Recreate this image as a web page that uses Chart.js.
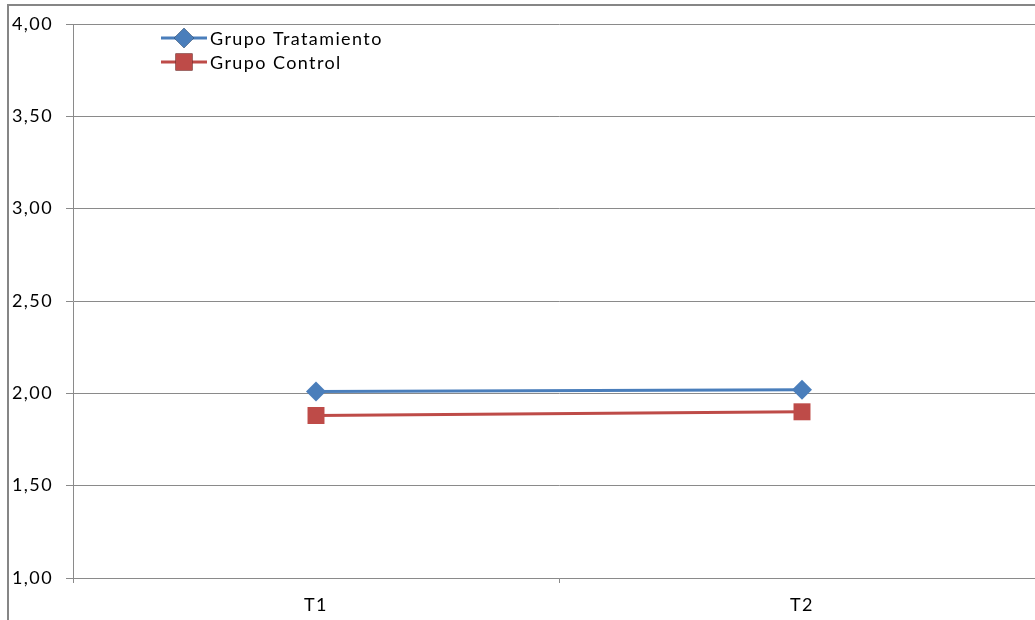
<!DOCTYPE html>
<html>
<head>
<meta charset="utf-8">
<script src="https://cdn.jsdelivr.net/npm/chart.js@4/dist/chart.umd.min.js"></script>
<style>
  html, body { margin: 0; padding: 0; background: #fff; overflow: hidden; }
  #wrap { position: absolute; left: 0; top: 0; width: 1057px; height: 620px; }
</style>
</head>
<body>
<div id="wrap"><canvas id="c" width="1057" height="620"></canvas></div>
<script>
const categories = ['T1', 'T2'];
const tratamiento = [2.01, 2.02];
const control = [1.88, 1.90];
const seriesNames = ['Grupo Tratamiento', 'Grupo Control'];
const yMin = 1, yMax = 4, yStep = 0.5;

const FONT = 'Lato, "Open Sans", sans-serif';
const FONT_SIZE = 18;
const SPACING = '1.4px';
const GRID = '#8a8a8a';

// Outer frame edges (left and top) of the chart box; also sets the wide text spacing
const framePlugin = {
  id: 'frame',
  beforeDraw(chart) {
    const ctx = chart.ctx;
    ctx.letterSpacing = SPACING;
    ctx.save();
    ctx.strokeStyle = '#868686';
    ctx.lineWidth = 2;
    ctx.beginPath();
    ctx.moveTo(8, 620);
    ctx.lineTo(8, 5);
    ctx.lineTo(1057, 5);
    ctx.stroke();
    ctx.restore();
  }
};

// Legend drawn as line + marker + label, inside the plot area
const lineLegend = {
  id: 'lineLegend',
  afterDraw(chart) {
    const ctx = chart.ctx;
    const x0 = 161, x1 = 207, textX = 210;
    const rows = [38, 62];
    ctx.save();
    chart.data.datasets.forEach((ds, i) => {
      const y = rows[i];
      ctx.strokeStyle = ds.borderColor;
      ctx.lineWidth = ds.borderWidth;
      ctx.beginPath();
      ctx.moveTo(x0, y);
      ctx.lineTo(x1, y);
      ctx.stroke();
      Chart.helpers.drawPoint(ctx, {
        pointStyle: ds.pointStyle,
        radius: ds.pointRadius,
        rotation: 0,
        borderWidth: 0
      }, (x0 + x1) / 2, y);
      ctx.fillStyle = ds.pointBackgroundColor;
      ctx.fill();
      ctx.fillStyle = '#000';
      ctx.font = FONT_SIZE + 'px ' + FONT;
      ctx.letterSpacing = SPACING;
      ctx.textBaseline = 'middle';
      ctx.textAlign = 'left';
      ctx.fillText(ds.label, textX, y + 1);
    });
    ctx.restore();
  }
};

new Chart(document.getElementById('c'), {
  type: 'line',
  data: {
    labels: categories,
    datasets: [
      {
        label: seriesNames[0],
        data: tratamiento,
        borderColor: '#4a7ebb',
        backgroundColor: '#4a7ebb',
        pointBackgroundColor: '#4a7ebb',
        pointBorderColor: '#4a7ebb',
        borderWidth: 3,
        pointStyle: 'rectRot',
        pointRadius: 10,
        pointBorderWidth: 0,
        pointHoverRadius: 10
      },
      {
        label: seriesNames[1],
        data: control,
        borderColor: '#be4b48',
        backgroundColor: '#be4b48',
        pointBackgroundColor: '#be4b48',
        pointBorderColor: '#be4b48',
        borderWidth: 3,
        pointStyle: 'rect',
        pointRadius: 12,
        pointBorderWidth: 0,
        pointHoverRadius: 12
      }
    ]
  },
  options: {
    responsive: false,
    animation: false,
    devicePixelRatio: 1,
    layout: { padding: { left: 0, top: 24, right: 6, bottom: 0 } },
    plugins: {
      legend: { display: false },
      tooltip: { enabled: false }
    },
    scales: {
      x: {
        offset: true,
        grid: {
          offset: true,
          drawOnChartArea: false,
          drawTicks: true,
          tickLength: 5,
          color: GRID,
          lineWidth: 1
        },
        border: { display: true, color: GRID, width: 1 },
        ticks: {
          color: '#000',
          font: { family: FONT, size: FONT_SIZE },
          padding: 11
        },
        afterFit(scale) { scale.height = 42; }
      },
      y: {
        min: yMin,
        max: yMax,
        grid: {
          color: GRID,
          lineWidth: 1,
          drawTicks: true,
          tickLength: 7
        },
        border: { display: true, color: GRID, width: 1 },
        ticks: {
          stepSize: yStep,
          color: '#000',
          font: { family: FONT, size: FONT_SIZE },
          padding: 13,
          callback: v => v.toFixed(2).replace('.', ',')
        },
        afterFit(scale) { scale.width = 73; }
      }
    }
  },
  plugins: [framePlugin, lineLegend]
});
</script>
</body>
</html>
